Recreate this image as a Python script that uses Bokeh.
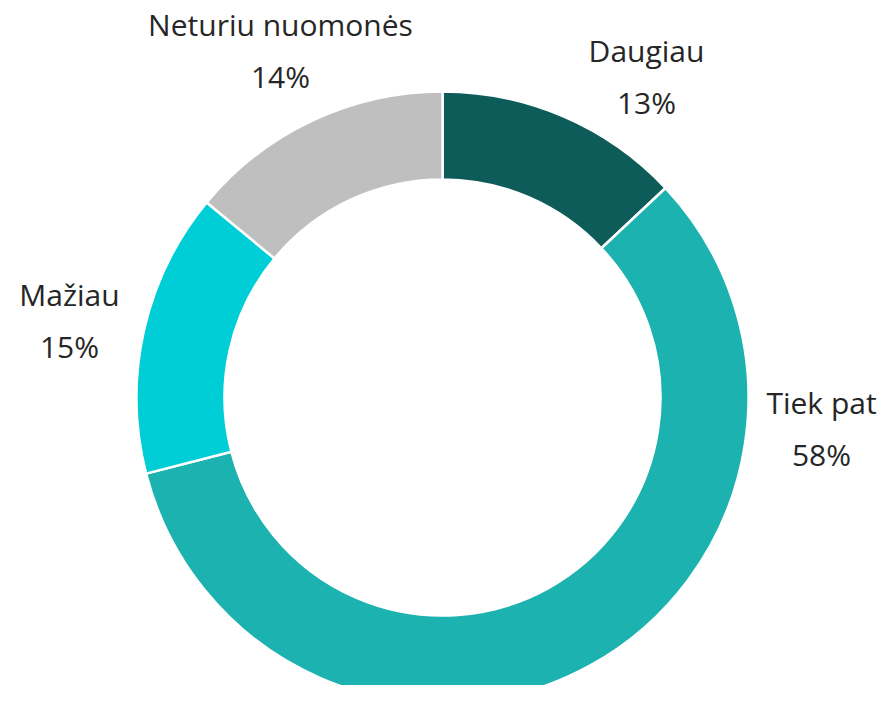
import math
from bokeh.plotting import figure
from bokeh.models import ColumnDataSource, Range1d
from bokeh.core.properties import value
from bokeh.embed import file_html
from bokeh.resources import INLINE

# ---- data ----
categories = ["Daugiau", "Tiek pat", "Mažiau", "Neturiu nuomonės"]
shares = [13, 58, 15, 14]
pct_labels = ["13%", "58%", "15%", "14%"]

# ---- style / layout ----
colors = ["#0E5C59", "#1BB2AF", "#00CED6", "#BFBFBF"]
W, H = 877, 685
CX, CY = 442, 701 - 397
R_OUT, R_IN = 306, 218
# label anchor (center x, baseline y of category line) in page pixels
label_pos = [(646, 50), (821, 402), (69, 294), (280, 24)]
LINE_GAP = 52
FONT = "Open Sans"
FONT_SIZE = "30px"
TEXT_COLOR = "#262626"

p = figure(width=W, height=H, output_backend="svg", toolbar_location=None,
           x_range=Range1d(0, W), y_range=Range1d(701 - H, 701),
           min_border=0)
p.axis.visible = False
p.grid.visible = False
p.outline_line_color = None
p.background_fill_color = "white"

total = sum(shares)
starts, ends = [], []
cum = 0
for s in shares:
    starts.append(math.pi / 2 - 2 * math.pi * cum / total)
    cum += s
    ends.append(math.pi / 2 - 2 * math.pi * cum / total)

src = ColumnDataSource(dict(x=[CX] * 4, y=[CY] * 4, start=starts, end=ends,
                            color=colors, cat=categories))
p.annular_wedge(x="x", y="y", inner_radius=R_IN, outer_radius=R_OUT,
                start_angle="start", end_angle="end", direction="clock",
                fill_color="color", line_color="white", line_width=2.5,
                source=src)

lx = [lp[0] for lp in label_pos]
ly1 = [701 - lp[1] for lp in label_pos]
ly2 = [701 - lp[1] - LINE_GAP for lp in label_pos]
tsrc = ColumnDataSource(dict(x=lx + lx, y=ly1 + ly2, t=categories + pct_labels))
p.text(x="x", y="y", text="t", source=tsrc, text_align="center",
       text_baseline="middle", text_font=value(FONT),
       text_font_size=FONT_SIZE, text_color=TEXT_COLOR)

open("out.html", "w").write(file_html(p, INLINE))
